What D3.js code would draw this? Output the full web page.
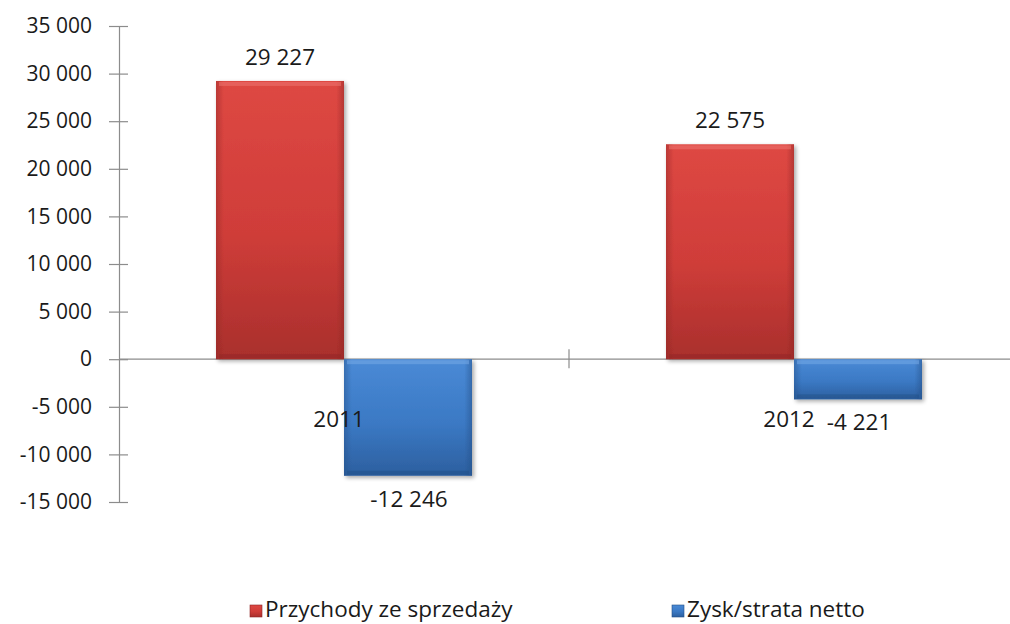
<!DOCTYPE html>
<html>
<head>
<meta charset="utf-8">
<script src="https://cdn.jsdelivr.net/npm/d3@7"></script>
<style>
  html, body { margin: 0; padding: 0; background: #fff; }
  svg { display: block; font-family: "Open Sans", "DejaVu Sans", sans-serif; }
</style>
</head>
<body>
<svg id="chart" width="1010" height="624"></svg>
<script>
// Revenue and net result, thousands PLN
const categories = ["2011", "2012"];
const seriesNames = ["Przychody ze sprzedaży", "Zysk/strata netto"];
const revenue = [29227, 22575];
const netResult = [-12246, -4221];
const valueLabels = [["29 227", "22 575"], ["-12 246", "-4 221"]];
const tickValues = [35000, 30000, 25000, 20000, 15000, 10000, 5000, 0, -5000, -10000, -15000];
const tickLabels = ["35 000", "30 000", "25 000", "20 000", "15 000", "10 000", "5 000", "0", "-5 000", "-10 000", "-15 000"];

const series = [revenue, netResult];
const colors = [
  { top: "#de4843", mid: "#cf3d39", bot: "#a92f2c", edge: "#8e2725", light: "#ec7470" },
  { top: "#4a8ad6", mid: "#3b79c4", bot: "#2c5f9f", edge: "#244f86", light: "#77aae6" }
];

const svg = d3.select("#chart");
const plot = { left: 119, right: 1019, top: 26, bottom: 502 };

const y = d3.scaleLinear().domain([-15000, 35000]).range([plot.bottom, plot.top]);
const x0 = d3.scaleBand().domain(categories).range([plot.left, plot.right]).paddingInner(0).paddingOuter(0);
const barW = 128;
const x1 = d3.scaleBand().domain([0, 1]).range([0, barW * 2]);

// gradients per series
const defs = svg.append("defs");
colors.forEach((c, i) => {
  const g = defs.append("linearGradient").attr("id", "grad" + i)
    .attr("x1", 0).attr("y1", 0).attr("x2", 0).attr("y2", 1);
  g.append("stop").attr("offset", "0%").attr("stop-color", c.top);
  g.append("stop").attr("offset", "55%").attr("stop-color", c.mid);
  g.append("stop").attr("offset", "100%").attr("stop-color", c.bot);
  const h = defs.append("linearGradient").attr("id", "side" + i)
    .attr("x1", 0).attr("y1", 0).attr("x2", 1).attr("y2", 0);
  h.append("stop").attr("offset", "0%").attr("stop-color", c.edge).attr("stop-opacity", 0.45);
  h.append("stop").attr("offset", "6%").attr("stop-color", c.edge).attr("stop-opacity", 0);
  h.append("stop").attr("offset", "94%").attr("stop-color", c.edge).attr("stop-opacity", 0);
  h.append("stop").attr("offset", "100%").attr("stop-color", c.edge).attr("stop-opacity", 0.5);
});
const shadow = defs.append("filter").attr("id", "shadow").attr("x", "-10%").attr("y", "-10%").attr("width", "125%").attr("height", "125%");
shadow.append("feGaussianBlur").attr("in", "SourceAlpha").attr("stdDeviation", 2);
shadow.append("feOffset").attr("dx", 2).attr("dy", 2).attr("result", "ob");
shadow.append("feComponentTransfer").append("feFuncA").attr("type", "linear").attr("slope", 0.35);
const merge = shadow.append("feMerge");
merge.append("feMergeNode");
merge.append("feMergeNode").attr("in", "SourceGraphic");

// Y axis
const yAxis = d3.axisLeft(y).tickValues(tickValues)
  .tickFormat((d, i) => tickLabels[i]).tickSize(10).tickSizeOuter(0);
const gy = svg.append("g").attr("transform", `translate(${plot.left},0)`).call(yAxis);
gy.select(".domain").attr("stroke", "#8c8c8c").attr("stroke-width", 1.2);
gy.selectAll(".tick line").attr("stroke", "#8c8c8c").attr("stroke-width", 1.2)
  .attr("x1", -10).attr("x2", 9);
gy.selectAll(".tick text").attr("x", -27).attr("font-size", 21)
  .attr("fill", "#1a1a1a").attr("font-family", "'Open Sans', sans-serif");

// Zero line with category separator
svg.append("line").attr("x1", plot.left).attr("x2", plot.right)
  .attr("y1", y(0)).attr("y2", y(0)).attr("stroke", "#8c8c8c").attr("stroke-width", 1.2);
svg.append("line").attr("x1", x0("2012")).attr("x2", x0("2012"))
  .attr("y1", y(0) - 10).attr("y2", y(0) + 9).attr("stroke", "#8c8c8c").attr("stroke-width", 1.2);

// Bars
const groups = svg.append("g").selectAll("g").data(categories).join("g")
  .attr("transform", d => `translate(${x0(d) + (x0.bandwidth() - barW * 2) / 2},0)`);

series.forEach((vals, si) => {
  groups.each(function (cat, ci) {
    const v = vals[ci];
    const bx = x1(si);
    const by = y(Math.max(0, v));
    const bh = Math.abs(y(v) - y(0));
    const g = d3.select(this).append("g").attr("filter", "url(#shadow)");
    g.append("rect").attr("x", bx).attr("y", by).attr("width", x1.bandwidth()).attr("height", bh)
      .attr("fill", `url(#grad${si})`);
    g.append("rect").attr("x", bx).attr("y", by).attr("width", x1.bandwidth()).attr("height", bh)
      .attr("fill", `url(#side${si})`);
    // bevel highlight along top edge
    g.append("rect").attr("x", bx + 3).attr("y", by + 1).attr("width", x1.bandwidth() - 6).attr("height", 4)
      .attr("fill", colors[si].light).attr("opacity", 0.55);
    // darker bevel along bottom edge
    g.append("rect").attr("x", bx + 3).attr("y", by + bh - 5).attr("width", x1.bandwidth() - 6).attr("height", 4)
      .attr("fill", colors[si].edge).attr("opacity", 0.45);
  });
});

// Value labels
const labelFont = 22.5;
series.forEach((vals, si) => {
  groups.each(function (cat, ci) {
    const v = vals[ci];
    const cx = x1(si) + x1.bandwidth() / 2;
    const ty = v >= 0 ? y(v) - 16 : y(v) + 31;
    d3.select(this).append("text")
      .attr("x", cx - (si === 0 ? 0 : -1)).attr("y", ty)
      .attr("text-anchor", "middle").attr("font-size", labelFont).attr("fill", "#1a1a1a")
      .text(valueLabels[si][ci]);
  });
});

// Category labels
svg.append("g").selectAll("text").data(categories).join("text")
  .attr("x", d => x0(d) + x0.bandwidth() / 2 - 5)
  .attr("y", 427)
  .attr("text-anchor", "middle").attr("font-size", labelFont).attr("fill", "#1a1a1a")
  .text(d => d);

// Legend
const legendX = [250, 672];
const legend = svg.append("g").selectAll("g").data(seriesNames).join("g")
  .attr("transform", (d, i) => `translate(${legendX[i]},605)`);
legend.append("rect").attr("width", 12).attr("height", 12)
  .attr("fill", (d, i) => `url(#grad${i})`)
  .attr("stroke", (d, i) => colors[i].edge).attr("stroke-width", 0.6);
legend.append("text").attr("x", 15).attr("y", 12).attr("font-size", labelFont).attr("fill", "#1a1a1a")
  .text(d => d);
</script>
</body>
</html>
